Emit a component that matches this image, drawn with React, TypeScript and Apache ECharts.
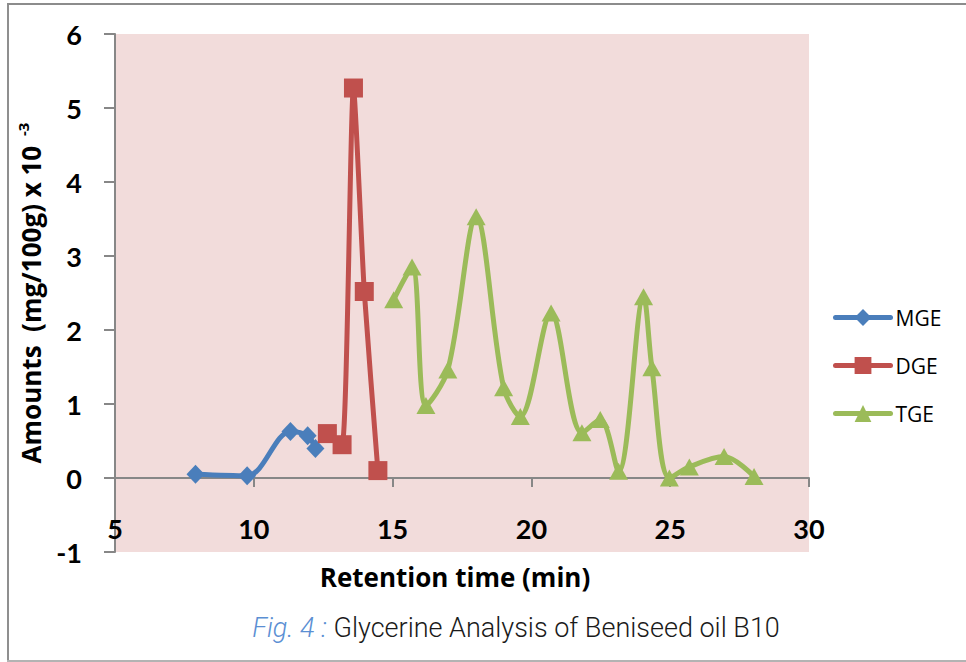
import React, { useEffect, useRef } from "react";
import * as echarts from "echarts";

// Retention time (min) and amount (mg/100g x 10^-3) for each glyceride class
const mgeTime = [7.9, 9.76, 11.32, 11.94, 12.22];
const mgeAmount = [0.05, 0.03, 0.63, 0.57, 0.4];

const dgeTime = [12.65, 13.18, 13.59, 13.98, 14.47];
const dgeAmount = [0.6, 0.45, 5.27, 2.52, 0.1];

const tgeTime = [
  15.04, 15.7, 16.2, 16.99, 18.01, 19.0, 19.6, 20.71, 21.82, 22.48, 23.14,
  24.04, 24.34, 24.97, 25.69, 26.94, 28.02,
];
const tgeAmount = [
  2.41, 2.85, 0.98, 1.46, 3.53, 1.22, 0.83, 2.23, 0.61, 0.79, 0.09, 2.45,
  1.49, 0.0, 0.15, 0.29, 0.02,
];

const xTicks = { min: 5, max: 30, interval: 5 };
const yTicks = { min: -1, max: 6, interval: 1 };

const pairs = (xs: number[], ys: number[]) => xs.map((x, i) => [x, ys[i]]);

const TICK_FONT = "Lato, 'Open Sans', sans-serif";
const TITLE_FONT = "'Open Sans', Lato, sans-serif";
const CAPTION_FONT = "Roboto, 'Liberation Sans', sans-serif";

export default function App() {
  const ref = useRef<HTMLDivElement>(null);

  useEffect(() => {
    if (!ref.current) return;
    const chart = echarts.init(ref.current, undefined, { renderer: "svg" });

    const axisGray = "#878787";

    chart.setOption({
      animation: false,
      backgroundColor: "#ffffff",
      grid: {
        left: 115,
        top: 34,
        right: 157,
        bottom: 110,
        show: true,
        backgroundColor: "#f2dcdb",
        borderWidth: 0,
      },
      legend: {
        orient: "vertical",
        left: 828,
        top: 302,
        padding: 5,
        itemWidth: 55,
        itemHeight: 21,
        itemGap: 27,
        itemTextGap: 5,
        textStyle: { fontFamily: TITLE_FONT, fontSize: 21, color: "#000" },
        lineStyle: { width: 5, cap: "round" },
        data: ["MGE", "DGE", "TGE"],
      },
      xAxis: {
        type: "value",
        min: xTicks.min,
        max: xTicks.max,
        interval: xTicks.interval,
        axisLine: { show: true, onZero: true, lineStyle: { color: axisGray, width: 2 } },
        axisTick: { show: true, length: 9, lineStyle: { color: axisGray, width: 2 } },
        axisLabel: {
          margin: -37,
          fontFamily: TICK_FONT,
          fontSize: 27,
          fontWeight: "bold",
          color: "#000",
        },
        splitLine: { show: false },
      },
      yAxis: {
        type: "value",
        min: yTicks.min,
        max: yTicks.max,
        interval: yTicks.interval,
        axisLine: { show: true, lineStyle: { color: axisGray, width: 2 } },
        axisTick: { show: true, length: 11, lineStyle: { color: axisGray, width: 2 } },
        axisLabel: {
          margin: 33,
          fontFamily: TICK_FONT,
          fontSize: 27,
          fontWeight: "bold",
          color: "#000",
        },
        splitLine: { show: false },
        name: "{t|Amounts  (mg/100g) x 10 }{s|-3}",
        nameLocation: "middle",
        nameRotate: 90,
        nameGap: 68,
        nameTextStyle: {
          rich: {
            t: { fontFamily: TITLE_FONT, fontSize: 26, fontWeight: "bold", color: "#000", lineHeight: 32 },
            s: {
              fontFamily: TITLE_FONT,
              fontSize: 15,
              fontWeight: "bold",
              color: "#000",
              verticalAlign: "top",
              lineHeight: 32,
              padding: [0, 0, 12, 3],
            },
          },
        },
      },
      series: [
        {
          name: "MGE",
          type: "line",
          data: pairs(mgeTime, mgeAmount),
          smooth: 0.33,
          symbol: "diamond",
          symbolSize: [18, 19],
          color: "#4a7ebb",
          lineStyle: { width: 5, color: "#4a7ebb", cap: "round", join: "round" },
          itemStyle: { color: "#4a7ebb" },
          z: 3,
        },
        {
          name: "DGE",
          type: "line",
          data: pairs(dgeTime, dgeAmount),
          smooth: 0.2,
          symbol: "rect",
          symbolSize: 19,
          color: "#c0504d",
          lineStyle: { width: 5, color: "#c0504d", cap: "round", join: "round" },
          itemStyle: { color: "#c0504d" },
          z: 4,
        },
        {
          name: "TGE",
          type: "line",
          data: pairs(tgeTime, tgeAmount),
          smooth: 0.33,
          symbol: "triangle",
          symbolSize: [19, 17],
          color: "#9bbb59",
          lineStyle: { width: 5, color: "#9bbb59", cap: "round", join: "round" },
          itemStyle: { color: "#9bbb59" },
          z: 5,
        },
      ],
      graphic: [
        {
          type: "line",
          shape: { x1: 8, y1: 4, x2: 8, y2: 661 },
          style: { stroke: "#8f8f8f", lineWidth: 2 },
          silent: true,
        },
        {
          type: "line",
          shape: { x1: 7, y1: 4, x2: 966, y2: 4 },
          style: { stroke: "#8c8c8c", lineWidth: 2 },
          silent: true,
        },
        {
          type: "line",
          shape: { x1: 7, y1: 661, x2: 966, y2: 661 },
          style: { stroke: "#b3b3b3", lineWidth: 2 },
          silent: true,
        },
        {
          type: "text",
          x: 455,
          y: 577,
          style: {
            text: "Retention time (min)",
            fontFamily: TITLE_FONT,
            fontSize: 26,
            fontWeight: "bold",
            fill: "#000",
            align: "center",
            verticalAlign: "middle",
          },
        },
        {
          type: "text",
          x: 516,
          y: 628,
          style: {
            text: "{f|Fig. 4 :}  {b|Glycerine Analysis of Beniseed oil B10}",
            align: "center",
            verticalAlign: "middle",
            rich: {
              f: {
                fontFamily: CAPTION_FONT,
                fontSize: 27,
                fontStyle: "italic",
                fontWeight: 300,
                fill: "#5b8fd3",
              },
              b: {
                fontFamily: CAPTION_FONT,
                fontSize: 27,
                fontWeight: 300,
                fill: "#1a1a1a",
              },
            },
          },
        },
      ],
    });

    return () => chart.dispose();
  }, []);

  return (
    <div
      ref={ref}
      style={{ position: "absolute", left: 0, top: 0, width: 966, height: 662 }}
    />
  );
}
